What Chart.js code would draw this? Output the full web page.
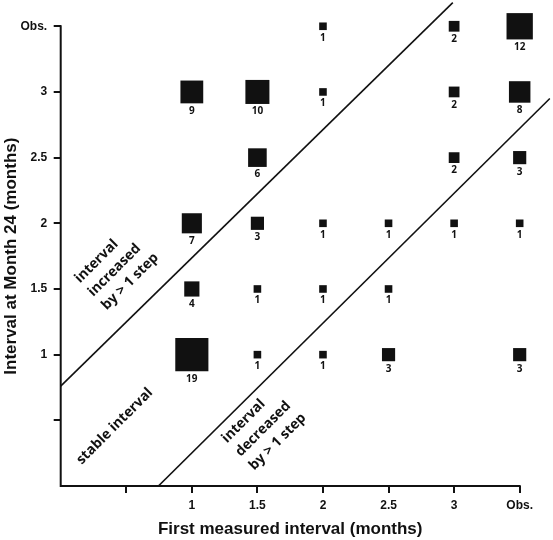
<!DOCTYPE html>
<html>
<head>
<meta charset="utf-8">
<script src="https://cdn.jsdelivr.net/npm/chart.js@4/dist/chart.umd.min.js"></script>
<style>
html, body { margin: 0; padding: 0; background: #ffffff; }
#wrap { width: 553px; height: 540px; position: relative; }
</style>
</head>
<body>
<div id="wrap"><canvas id="c" width="553" height="540"></canvas></div>
<script>
// ---- data ----
const intervalLabels = ['', '1', '1.5', '2', '2.5', '3', 'Obs.']; // tick positions 1..7
const firstInterval  = ['2', '3', 'Obs.', '1', '1.5', '2', '3', 'Obs.', '1.5', '3', 'Obs.', '1', '1.5', '2', '2.5', '3', 'Obs.', '1', '1.5', '2', '2.5', '1', '1.5', '2', '2.5', 'Obs.'];
const month24Interval = ['Obs.', 'Obs.', 'Obs.', '3', '3', '3', '3', '3', '2.5', '2.5', '2.5', '2', '2', '2', '2', '2', '2', '1.5', '1.5', '1.5', '1.5', '1', '1', '1', '1', '1'];
const counts = [1, 2, 12, 9, 10, 1, 2, 8, 6, 2, 3, 7, 3, 1, 1, 1, 1, 4, 1, 1, 1, 19, 1, 1, 3, 3];
const upperBoundaryX = [0, 5.98];
const upperBoundaryY = [1.52, 7.36];
const lowerBoundaryX = [1.49, 7.46];
const lowerBoundaryY = [0, 5.9];
const xTitle = 'First measured interval (months)';
const yTitle = 'Interval at Month 24 (months)';
const noteIncreased = ['interval', 'increased', 'by > 1 step'];
const noteStable = ['stable interval'];
const noteDecreased = ['interval', 'decreased', 'by > 1 step'];

// ---- styling / layout ----
const INK = '#111111';
const TICK_FONT = { family: "'Liberation Sans', Arial, sans-serif", size: 12, weight: 'bold' };
const sideFor = n => 7.6 * Math.sqrt(n);
const notePlacement = [
  { lines: noteIncreased, at: [0.293, 3.082], lh: 19 },
  { lines: noteStable, at: [0.32, 0.32], lh: 19 },
  { lines: noteDecreased, at: [2.536, 0.649], lh: 19.3 }
];

const pos = lbl => intervalLabels.indexOf(lbl) + 1;
const squares = counts.map((c, i) => ({ x: pos(firstInterval[i]), y: pos(month24Interval[i]) }));
const toPts = (xs, ys) => xs.map((v, i) => ({ x: v, y: ys[i] }));

const overlay = {
  id: 'overlay',
  afterDatasetsDraw(chart) {
    const { ctx, scales } = chart;
    const x = scales.x, y = scales.y;
    ctx.save();
    // axis lines (stop at the last tick)
    const x0 = x.getPixelForValue(0), x7 = x.getPixelForValue(7);
    const y0 = y.getPixelForValue(0), y7 = y.getPixelForValue(7);
    ctx.strokeStyle = INK; ctx.lineWidth = 2;
    ctx.beginPath();
    ctx.moveTo(x0, y7 - 1); ctx.lineTo(x0, y0); ctx.lineTo(x7 + 1, y0);
    ctx.stroke();

    // counts under the squares
    const meta = chart.getDatasetMeta(0);
    ctx.fillStyle = INK;
    ctx.font = "bold 10px 'Open Sans', sans-serif";
    ctx.textAlign = 'center'; ctx.textBaseline = 'alphabetic';
    meta.data.forEach((pt, i) => {
      const s = sideFor(counts[i]);
      ctx.fillText(String(counts[i]), pt.x, pt.y + s / 2 + 10.5);
    });

    // region notes, rotated 45 degrees
    ctx.font = "bold 14px 'Open Sans', sans-serif";
    ctx.textAlign = 'left';
    notePlacement.forEach(n => {
      ctx.save();
      ctx.translate(x.getPixelForValue(n.at[0]), y.getPixelForValue(n.at[1]));
      ctx.rotate(-Math.PI / 4);
      n.lines.forEach((t, k) => ctx.fillText(t, 0, k * n.lh));
      ctx.restore();
    });

    // axis titles
    ctx.font = "bold 17px 'Liberation Sans', Arial, sans-serif";
    ctx.textAlign = 'center'; ctx.textBaseline = 'alphabetic';
    ctx.fillText(xTitle, (x0 + x7) / 2, 534.3);
    ctx.save();
    ctx.translate(15.5, (y0 + y7) / 2);
    ctx.rotate(-Math.PI / 2);
    ctx.fillText(yTitle, 0, 0);
    ctx.restore();
    ctx.restore();
  }
};

const fixedTicks = scale => { scale.ticks = [1, 2, 3, 4, 5, 6, 7].map(v => ({ value: v })); };
const noPad = s => { s.paddingTop = 0; s.paddingBottom = 0; s.paddingLeft = 0; s.paddingRight = 0; };

new Chart(document.getElementById('c'), {
  type: 'scatter',
  data: {
    datasets: [
      {
        data: squares,
        pointStyle: 'rect',
        pointRadius: ctx => sideFor(counts[ctx.dataIndex]) / Math.SQRT2,
        pointHoverRadius: ctx => sideFor(counts[ctx.dataIndex]) / Math.SQRT2,
        backgroundColor: INK,
        borderWidth: 0,
        pointBorderWidth: 0,
        clip: false
      },
      {
        data: toPts(upperBoundaryX, upperBoundaryY),
        showLine: true, pointRadius: 0, borderColor: INK, borderWidth: 1.6, fill: false
      },
      {
        data: toPts(lowerBoundaryX, lowerBoundaryY),
        showLine: true, pointRadius: 0, borderColor: INK, borderWidth: 1.6, fill: false
      }
    ]
  },
  options: {
    responsive: false,
    animation: false,
    devicePixelRatio: 1,
    layout: { autoPadding: false, padding: { left: 0, right: 2.5, top: 0, bottom: 0 } },
    plugins: { legend: { display: false }, tooltip: { enabled: false } },
    scales: {
      x: {
        type: 'linear', min: 0, max: 7.47,
        afterBuildTicks: fixedTicks,
        afterFit: s => { s.height = 54; noPad(s); },
        border: { display: false },
        grid: { drawOnChartArea: false, drawTicks: true, tickLength: 7, color: INK, lineWidth: 2 },
        ticks: {
          color: INK, font: TICK_FONT, padding: 5, maxRotation: 0, minRotation: 0, autoSkip: false,
          callback: v => intervalLabels[v - 1] ?? ''
        }
      },
      y: {
        type: 'linear', min: 0, max: 7.4,
        afterBuildTicks: fixedTicks,
        afterFit: s => { s.width = 60.7; noPad(s); },
        border: { display: false },
        grid: { drawOnChartArea: false, drawTicks: true, tickLength: 7, color: INK, lineWidth: 2 },
        ticks: {
          color: INK, font: TICK_FONT, padding: 6.5, autoSkip: false,
          callback: v => intervalLabels[v - 1] ?? ''
        }
      }
    }
  },
  plugins: [overlay]
});
</script>
</body>
</html>
